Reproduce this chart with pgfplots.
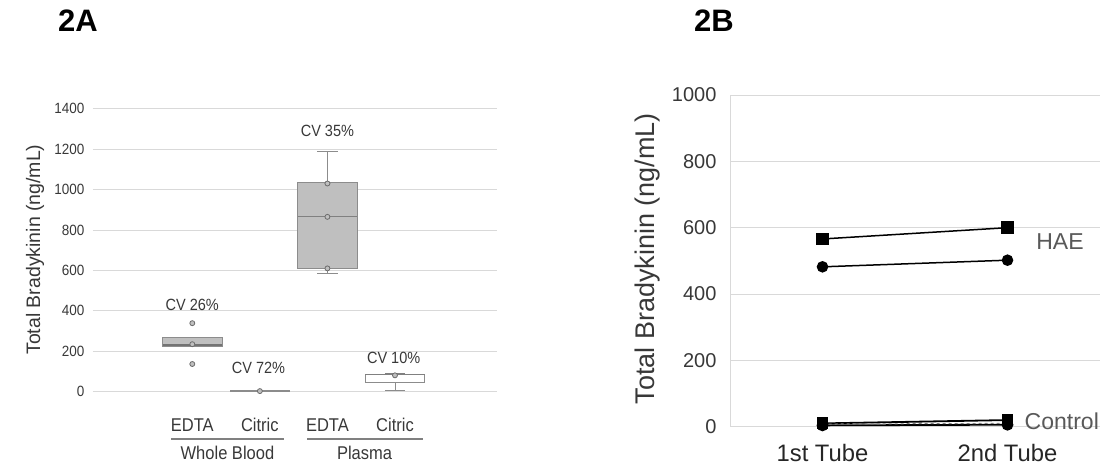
\documentclass[border=0pt]{standalone}
\usepackage{fontspec}
\setmainfont{Liberation Sans}
\usepackage{pgfplots}
\pgfplotsset{compat=1.18}
\definecolor{gridc}{HTML}{D9D9D9}
\definecolor{boxf}{HTML}{BFBFBF}
\definecolor{boxd}{HTML}{8C8C8C}
\definecolor{txt}{HTML}{383838}
\definecolor{lbl}{HTML}{595959}
\begin{document}
\begin{tikzpicture}
\path[use as bounding box] (0,0) rectangle (1106pt,475pt);
\node[font=\fontsize{31}{33}\selectfont\bfseries] at (78pt,454pt) {2A};
\node[font=\fontsize{31}{33}\selectfont\bfseries] at (714pt,454pt) {2B};
% ---------------- 2A ----------------
\begin{axis}[
  at={(93pt,83.3pt)}, anchor=south west, scale only axis,
  width=404pt, height=283pt,
  xmin=-1.47, xmax=4.51, ymin=0, ymax=1400, ytick={0,200,...,1400},
  xtick={0,1,2,3}, xticklabels={EDTA,Citric,EDTA,Citric},
  axis line style={draw=none}, major tick length=0pt,
  ymajorgrids, grid style={gridc, line width=0.8pt},
  tick label style={text=txt},
  yticklabel style={font=\fontsize{13.5}{15}\selectfont, xshift=-5pt, yscale=1.1},
  xticklabel style={font=\fontsize{16.5}{18}\selectfont, anchor=center, yshift=-33pt, yscale=1.12},
  /pgf/number format/1000 sep={}, /pgf/number format/assume math mode=true,
  ylabel={Total Bradykinin (ng/mL)},
  ylabel style={at={(axis description cs:-0.1436,0.502)}, anchor=center, font=\fontsize{19.5}{21}\selectfont, text=txt},
  clip=false,
]
% boxes (quartiles)
\addplot[draw=boxd, fill=boxf, line width=0.8pt] coordinates {(-0.44,223) (0.44,223) (0.44,269) (-0.44,269)} -- cycle;
\addplot[draw=gray!90!black, line width=1.8pt] coordinates {(-0.44,230) (0.44,230)};
\addplot[draw=boxd, fill=boxf, line width=0.8pt] coordinates {(0.56,2) (1.44,2) (1.44,4) (0.56,4)} -- cycle;
% plasma EDTA
\addplot[draw=boxd, line width=0.8pt] coordinates {(2,1035) (2,1189)};
\addplot[draw=boxd, line width=0.8pt] coordinates {(1.85,1189) (2.15,1189)};
\addplot[draw=boxd, line width=0.8pt] coordinates {(2,609) (2,586)};
\addplot[draw=boxd, line width=0.8pt] coordinates {(1.85,586) (2.15,586)};
\addplot[draw=boxd, fill=boxf, line width=0.8pt] coordinates {(1.56,609) (2.44,609) (2.44,1035) (1.56,1035)} -- cycle;
\addplot[draw=gray, line width=1pt] coordinates {(1.56,865) (2.44,865)};
% plasma citric
\addplot[draw=boxd, line width=0.8pt] coordinates {(3,45) (3,8)};
\addplot[draw=boxd, line width=0.8pt] coordinates {(2.85,8) (3.15,8)};
\addplot[draw=boxd, fill=white, line width=0.8pt] coordinates {(2.56,45) (3.44,45) (3.44,88) (2.56,88)} -- cycle;
\addplot[draw=gray, line width=0.8pt] coordinates {(2.56,84) (3.44,84)};
\addplot[draw=gray, line width=0.8pt] coordinates {(2.85,90) (3.15,90)};
% data points
\addplot[only marks, mark=*, mark size=2.5pt, draw=gray!85!black, fill=boxf, line width=0.8pt] coordinates {
  (0,339) (0,235) (0,137) (1,3) (2,1030) (2,865) (2,610) (3,81)};
\node[font=\fontsize{14.5}{16}\selectfont, text=txt, yscale=1.12] at (axis cs:0,429) {CV 26\%};
\node[font=\fontsize{14.5}{16}\selectfont, text=txt, yscale=1.12] at (axis cs:0.98,116) {CV 72\%};
\node[font=\fontsize{14.5}{16}\selectfont, text=txt, yscale=1.12] at (axis cs:2,1288) {CV 35\%};
\node[font=\fontsize{14.5}{16}\selectfont, text=txt, yscale=1.12] at (axis cs:2.98,168) {CV 10\%};
\draw[gray, line width=1.6pt] (axis cs:-0.31,-233) -- (axis cs:1.35,-233);
\draw[gray, line width=1.6pt] (axis cs:1.70,-233) -- (axis cs:3.41,-233);
\node[font=\fontsize{16.5}{18}\selectfont, text=txt, yscale=1.12] at (axis cs:0.52,-302) {Whole Blood};
\node[font=\fontsize{16.5}{18}\selectfont, text=txt, yscale=1.12] at (axis cs:2.55,-302) {Plasma};
\end{axis}
% ---------------- 2B ----------------
\begin{axis}[
  at={(730pt,48.3pt)}, anchor=south west, scale only axis,
  width=370pt, height=331.7pt,
  xmin=0.5, xmax=2.5, ymin=0, ymax=1000, ytick={0,200,...,1000},
  xtick={1,2}, xticklabels={1st Tube,2nd Tube},
  axis line style={draw=none}, major tick length=0pt,
  ymajorgrids, grid style={gridc, line width=0.8pt},
  tick label style={text=txt},
  yticklabel style={font=\fontsize{20}{22}\selectfont, xshift=-10pt},
  xticklabel style={font=\fontsize{23.8}{25}\selectfont, anchor=center, yshift=-26pt, text=black!85},
  /pgf/number format/1000 sep={}, /pgf/number format/assume math mode=true,
  ylabel={Total Bradykinin (ng/mL)},
  ylabel style={at={(axis description cs:-0.2216,0.506)}, anchor=center, font=\fontsize{27}{29}\selectfont, text=txt},
  clip=false,
]
\draw[gridc, line width=0.8pt] (rel axis cs:0,0) -- (rel axis cs:0,1);
\addplot[black, line width=1.5pt, mark=square*, mark size=5.5pt] coordinates {(1,566) (2,600)};
\addplot[black, line width=1.5pt, mark=*, mark size=5pt] coordinates {(1,482) (2,502)};
\addplot[black, line width=1.8pt, mark=square*, mark size=5pt] coordinates {(1,10) (2,20)};
\addplot[black, line width=1.8pt, mark=*, mark size=5pt] coordinates {(1,4) (2,6)};
\addplot[gray, dashed, line width=1pt] coordinates {(1,8) (2,10)};
\node[anchor=west, inner sep=0pt, font=\fontsize{23}{25}\selectfont, text=lbl] at (axis cs:2.155,558) {HAE};
\node[anchor=west, inner sep=0pt, font=\fontsize{23}{25}\selectfont, text=lbl] at (axis cs:2.092,15) {Control};
\end{axis}
\end{tikzpicture}
\end{document}
